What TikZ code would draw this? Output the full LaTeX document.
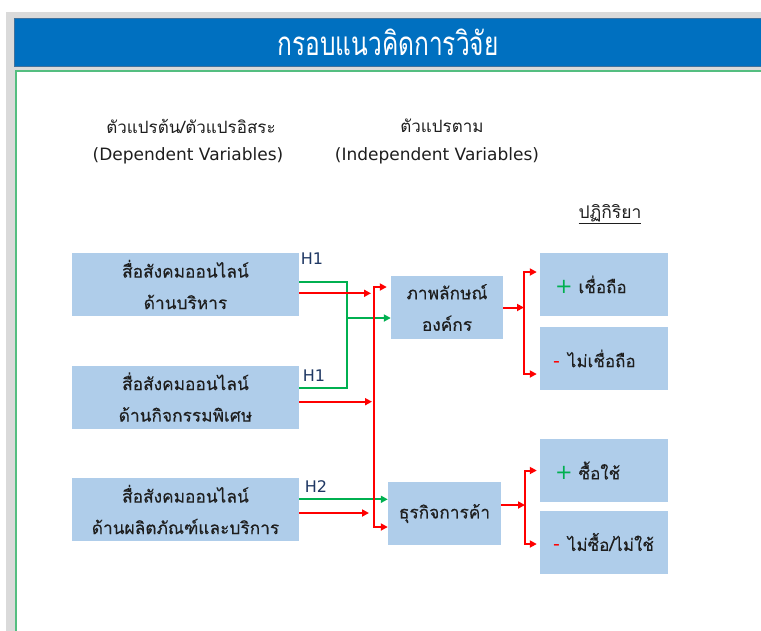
\documentclass[tikz,border=0pt]{standalone}
\usepackage{fontspec}
\usepackage{graphicx}
\usetikzlibrary{arrows.meta}
\newfontfamily\thai[Script=Thai]{Loma}
\newfontfamily\thaib[Script=Thai,FakeBold=0.35]{Loma}
\newfontfamily\latin{DejaVu Sans}
\definecolor{bggray}{RGB}{218,218,218}
\definecolor{titleblue}{RGB}{0,112,192}
\definecolor{titleedge}{RGB}{65,113,156}
\definecolor{framegreen}{RGB}{84,190,128}
\definecolor{boxblue}{RGB}{175,205,234}
\definecolor{textdark}{RGB}{30,30,30}
\definecolor{hnavy}{RGB}{31,56,100}
\definecolor{arrred}{RGB}{255,0,0}
\definecolor{arrgreen}{RGB}{0,176,80}
\begin{document}
\begin{tikzpicture}[x=1pt,y=-1pt,
  vbox/.style={fill=boxblue, text=textdark, font=\thaib\fontsize{17.3}{31.5}\selectfont, align=center, inner sep=0pt, minimum height=63pt},
  rbox/.style={fill=boxblue, text=textdark, font=\thaib\fontsize{17}{20}\selectfont, inner sep=0pt, minimum width=128pt, minimum height=63pt},
  hdr/.style={text=textdark, align=center, inner sep=0pt},
  hlab/.style={text=hnavy, font=\latin\fontsize{16}{18}\selectfont, inner sep=0pt},
  rline/.style={draw=arrred, line width=2pt},
  gline/.style={draw=arrgreen, line width=2pt},
  rarr/.style={rline, -{Triangle[length=7pt,width=7pt]}},
  garr/.style={gline, -{Triangle[length=7pt,width=7pt]}}
]
\useasboundingbox (0,0) rectangle (761,630);
\begin{scope}
  \clip (0,0) rectangle (761,630);
  \fill[bggray] (6,12) rectangle (780,640);
  \draw[fill=titleblue, draw=titleedge, line width=1pt] (14,18) rectangle (780,66);
  \draw[fill=white, draw=framegreen, line width=2pt] (16,71) rectangle (780,650);
\end{scope}
\node[text=white, font=\thai\fontsize{24.5}{28}\selectfont, inner sep=0pt] (title) at (388,42) {\scalebox{1}[1.35]{กรอบแนวคิดการวิจัย}};

\node[hdr, font=\thai\fontsize{17}{30}\selectfont] (dep1) at (191,126) {ตัวแปรต้น/ตัวแปรอิสระ};
\node[hdr, font=\latin\fontsize{17}{20}\selectfont] (dep2) at (188,156) {(Dependent Variables)};
\node[hdr, font=\thai\fontsize{17}{30}\selectfont] (ind1) at (442,126) {ตัวแปรตาม};
\node[hdr, font=\latin\fontsize{17}{20}\selectfont] (ind2) at (437,156) {(Independent Variables)};
\node[text=textdark, font=\thai\fontsize{17.5}{20}\selectfont, inner sep=0pt] (react) at (610,214) {\underline{ปฏิกิริยา}};

\node[vbox, minimum width=227pt] (A) at (185.5,284.5) {สื่อสังคมออนไลน์\\ด้านบริหาร};
\node[vbox, minimum width=227pt] (B) at (185.5,397) {สื่อสังคมออนไลน์\\ด้านกิจกรรมพิเศษ};
\node[vbox, minimum width=227pt] (C) at (185.5,509.5) {สื่อสังคมออนไลน์\\ด้านผลิตภัณฑ์และบริการ};
\node[vbox, minimum width=112pt] (P) at (447,307.5) {ภาพลักษณ์\\องค์กร};
\node[vbox, minimum width=113pt] (T) at (444.5,513.5) {ธุรกิจการค้า};
\node[rbox] (R1) at (604,284.5) {\makebox[102pt][l]{\hspace{2pt}{\color{arrgreen}\latin\fontsize{21}{20}\selectfont +}\hspace{6pt}เชื่อถือ}};
\node[rbox] (R2) at (604,358.5) {\makebox[102pt][l]{{\color{arrred}\latin\fontsize{19}{20}\selectfont -}\hspace{8pt}ไม่เชื่อถือ}};
\node[rbox] (R3) at (604,470.5) {\makebox[102pt][l]{\hspace{2pt}{\color{arrgreen}\latin\fontsize{21}{20}\selectfont +}\hspace{6pt}ซื้อใช้}};
\node[rbox] (R4) at (604,542) {\makebox[102pt][l]{{\color{arrred}\latin\fontsize{19}{20}\selectfont -}\hspace{8pt}ไม่ซื้อ/ไม่ใช้}};

\node[hlab] (h1a) at (312,259) {H1};
\node[hlab] (h1b) at (314,376) {H1};
\node[hlab] (h2) at (316,487) {H2};

% green links to image
\coordinate (gb) at (347,318);
\draw[gline] ([yshift=2.5pt]A.east) -| (gb) |- ([yshift=9.3pt]B.east);
\draw[garr] (gb) -- (gb -| P.west);
\draw[garr] ([yshift=10.2pt]C.east) -- ([yshift=10.2pt]C.east -| T.west);

% red bus
\coordinate (rb) at (374,400);
\draw[rarr, shorten >=3pt] ([yshift=-8.8pt]A.east) -- ([yshift=-8.8pt]A.east -| rb);
\draw[rarr, shorten >=2pt] ([yshift=-4.7pt]B.east) -- ([yshift=-4.7pt]B.east -| rb);
\draw[rarr, shorten >=5pt] ([yshift=-3.5pt]C.east) -- ([yshift=-3.5pt]C.east -| rb);
\draw[rarr, shorten >=4pt] (rb) |- ([yshift=20.5pt]P.west);
\draw[rarr] (rb) |- ([yshift=-13.5pt]T.west);

% reactions
\coordinate (pb) at (524,307.5);
\draw[rarr] (P.east) -- (pb);
\draw[rarr, shorten >=3pt] (pb) |- ([yshift=12.5pt]R1.west);
\draw[rarr, shorten >=3pt] (pb) |- ([yshift=-15.5pt]R2.west);
\coordinate (tb) at (525,505);
\draw[rarr] ([yshift=8.5pt]T.east) -- (tb);
\draw[rarr, shorten >=3pt] (tb) |- (R3.west);
\draw[rarr, shorten >=3pt] (tb) |- ([yshift=-2pt]R4.west);
\end{tikzpicture}
\end{document}
